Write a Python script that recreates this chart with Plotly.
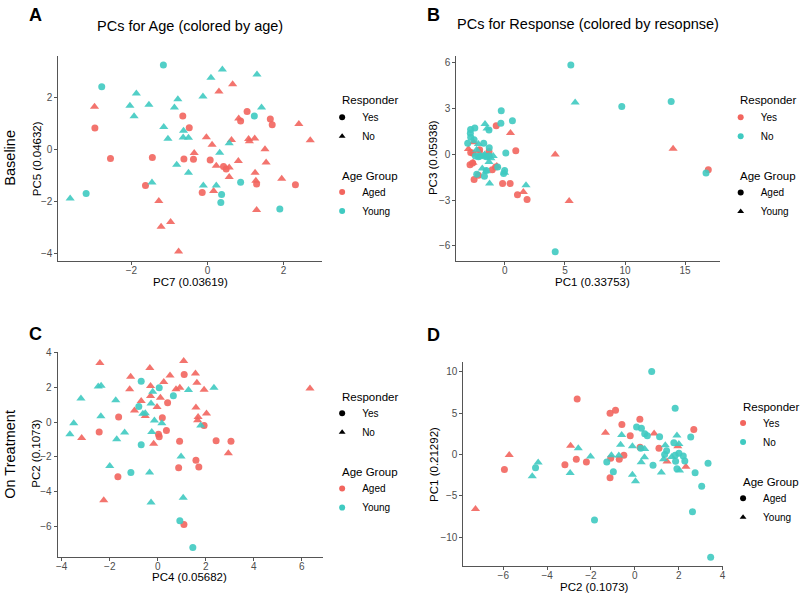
import plotly.graph_objects as go

# colours (ggplot default hue pair)
RED = "#F2655E"
CYAN = "#3FCAC1"
FONT = "Liberation Sans, Arial, Helvetica, sans-serif"

# ---- Panel A: PC7 vs PC5, colour = age group, shape = responder
a_aged_yes_x = [-0.65, -0.48, -2.96, -2.55, -1.45, -0.62, -0.37, 0.07, 0.42, 0.49, 1.04, 0.87, 1.65, 1.70, -1.63, -0.14, 1.29, 2.31]
a_aged_yes_y = [1.29, 0.84, 0.83, -0.35, -0.31, -0.37, -0.38, -0.41, -0.66, -0.75, 1.47, 1.10, 1.18, 0.95, -1.39, -1.66, -1.33, -1.36]
a_aged_no_x = [-2.97, 0.66, 0.30, 0.82, -0.03, 0.12, 0.63, 1.08, 1.10, 1.24, 2.40, 2.70, 1.51, -0.35, 0.23, 0.81, 0.57, 0.57, 1.54, 1.25, 1.27, 1.95, 0.16, -1.28, -0.97, -1.22, 1.29, -0.76]
a_aged_no_y = [1.65, 2.52, 2.24, 1.20, 0.47, 0.18, 0.37, 0.40, 0.32, 0.42, 0.98, 0.36, 0.01, -0.14, -0.63, -0.45, -1.06, -0.70, -0.50, -0.90, -1.21, -1.13, -1.60, -1.99, -2.80, -2.99, -2.34, -3.94]
a_young_yes_x = [-1.16, -2.78, 1.23, -3.19, 0.87, 0.37, 0.35, 1.90]
a_young_yes_y = [3.26, 2.42, 1.29, -1.70, -1.27, -1.74, -2.05, -2.30]
a_young_no_x = [0.39, 0.09, 1.30, -1.87, -2.04, -1.54, -1.93, -0.78, -0.87, -0.12, 1.42, -1.15, -0.63, -1.04, -0.64, -0.50, 0.32, 0.57, -0.81, -0.50, -1.46, -0.11, 0.23, -3.61]
a_young_no_y = [3.09, 2.77, 2.90, 2.16, 1.69, 1.73, 1.28, 1.94, 1.62, 2.05, 1.62, 0.87, 0.72, 0.41, 0.46, 0.45, -0.13, 0.24, -0.59, -0.90, -1.28, -1.39, -1.39, -1.89]

# ---- Panel B: PC1 vs PC3, colour = responder, shape = age group
b_yes_aged_x = [-0.72, 0.91, -2.84, -2.65, -1.32, -2.90, -2.68, -0.77, -1.05, -2.56, -2.20, -0.19, 0.44, 1.05, 1.85, 16.93, -2.10]
b_yes_aged_y = [1.89, 0.24, 0.13, 0.07, 0.20, -0.67, -0.56, -0.82, -1.00, -1.65, -1.37, -1.91, -1.91, -2.65, -2.95, -1.00, 0.30]
b_yes_young_x = [0.47, -3.03, -2.60, -2.15, -2.65, -0.67, 1.54, 4.19, 14.00, 5.35]
b_yes_young_y = [1.41, 0.35, 0.80, 0.25, -0.55, -0.76, -2.47, 0.00, 0.37, -3.06]
b_no_aged_x = [5.49, 9.73, 13.84, 16.74, 4.19, 0.63, -0.33, -0.30, 0.08, -2.50, -2.85, -2.87, -1.32, -2.84, -2.56, -3.09, -1.76, -1.30, -2.45, -2.20, -2.07, -1.70, -1.52, -1.30, -0.60, -0.02, -0.10, -2.34, -1.70, -1.55]
b_no_aged_y = [5.86, 3.15, 3.47, -1.21, -6.38, 2.21, 2.04, 2.86, 0.09, 1.74, 1.63, 1.39, 1.61, 1.13, 0.96, 0.74, 0.74, 0.44, -0.10, -0.15, -0.10, -0.10, -0.15, -0.10, -0.82, -1.06, -1.25, -1.30, -1.43, -1.05]
b_no_young_x = [5.85, -1.65, -1.48, -2.20, -2.35, -1.68, -0.97, -1.32, -1.88, -1.55, -1.27, 1.76, -0.02, -1.16, -2.00]
b_no_young_y = [3.41, 1.99, 1.70, 0.68, 0.30, 0.00, -0.10, -0.50, -0.93, -1.10, -1.91, -2.02, -1.20, -0.25, -0.10]

# ---- Panel C: PC4 vs PC2, colour = age group, shape = responder
c_aged_yes_x = [1.10, 0.41, -1.63, -2.44, 0.19, 0.36, 0.03, 0.06, 0.91, 1.93, 2.43, 3.05, 1.59, 1.71, 0.87, -1.66, 1.09]
c_aged_yes_y = [2.74, 1.12, 0.29, -0.57, 0.25, -0.48, -0.69, -0.84, -1.10, -0.19, -1.07, -1.10, -2.19, -2.59, -2.63, -3.14, -5.90]
c_aged_no_x = [-2.41, -1.13, -1.17, -0.33, -0.30, 1.08, 0.51, 0.25, -0.30, 0.11, -0.69, -0.97, -0.52, -0.03, 0.76, 0.92, 1.57, 1.63, 1.93, 1.59, 2.03, 1.68, 1.66, 6.34, -3.17, -0.17, 2.94, -2.25]
c_aged_no_y = [3.41, 2.61, 1.90, 3.12, 2.08, 3.52, 2.69, 2.32, 1.50, 1.41, 1.22, 0.67, 0.36, 0.88, 1.90, 1.98, 2.80, 2.27, 1.87, 0.84, 0.50, 0.30, 0.11, 1.94, -0.91, -1.24, -1.79, -4.50]
c_young_yes_x = [-0.69, 0.06, 0.65, -0.79, -0.69, -1.12, 0.92, 1.46]
c_young_yes_y = [2.36, 1.98, 1.52, 0.90, -1.30, -2.90, -5.68, -7.22]
c_young_no_x = [-2.48, -2.36, -3.20, -1.75, -2.37, -3.50, -3.66, -1.71, -1.38, -2.00, -0.21, -0.28, -0.62, -0.52, -0.14, 0.17, -0.25, 1.28, 2.34, 1.79, 0.97, -0.34, -0.28, 1.06]
c_young_no_y = [2.06, 2.10, 1.37, 1.26, 0.34, -0.06, -0.69, -0.99, -0.59, -2.53, 1.75, 1.07, 0.48, 0.51, 0.10, -0.06, -0.57, 1.85, 1.98, -0.19, -1.98, -2.90, -4.63, -4.36]

# ---- Panel D: PC2 vs PC1, colour = responder, shape = age group
d_yes_aged_x = [-2.63, -1.13, -0.88, -0.59, 0.23, -0.21, 2.69, 0.24, 1.10, -0.50, -0.71, -1.10, -2.67, -2.21, -3.19, -5.95, -1.13]
d_yes_aged_y = [6.71, 4.99, 5.35, 3.63, 4.27, 2.28, 3.03, 0.88, 0.76, -0.08, -0.56, -0.44, -0.56, -0.88, -1.24, -1.80, -2.79]
d_yes_young_x = [-5.73, -7.27, -2.93, -1.34, 0.88, 1.96, 1.47, 2.33]
d_yes_young_y = [-0.04, -6.59, 1.08, 2.63, 2.55, 1.00, -0.84, -1.48]
d_no_aged_x = [0.77, 1.84, 0.08, 0.30, 0.45, 0.57, 1.13, 2.55, 1.78, 0.27, 1.45, 1.36, 1.84, 2.01, 2.21, 2.28, 1.86, 1.92, 2.75, 3.34, 3.05, 2.63, 3.46, -1.84, -1.28, -0.98, 0.83, -4.53]
d_no_aged_y = [10.06, 5.59, 3.35, 3.19, 2.51, 2.28, 2.16, 2.12, 1.44, 0.76, 0.48, 0.00, -0.08, 0.16, -0.16, -0.76, -0.80, -1.72, -2.20, -1.04, -3.83, -6.91, -12.42, -7.90, -0.88, -2.08, -1.28, -1.60]
d_no_young_x = [-2.58, -2.02, -2.95, -4.41, -4.68, -1.07, -0.60, -0.65, -0.73, -0.11, -0.11, 0.03, 0.29, 0.44, 0.45, 1.39, 1.92, 2.01, 1.21, 1.31, 1.68, 2.04]
d_no_young_y = [0.76, -0.24, -2.24, -0.96, -2.63, -0.08, 2.36, 1.20, -0.12, 1.00, -2.44, -3.23, -0.92, -0.32, 0.68, 1.12, 2.32, 1.28, -2.16, -0.56, -0.28, -1.92]

fig = go.Figure()


def add_points(x, y, color, symbol, n):
    sz = 7 if symbol == "circle" else 8
    fig.add_trace(go.Scatter(x=x, y=y, mode="markers", showlegend=False,
                             xaxis="x" + n, yaxis="y" + n,
                             marker=dict(color=color, symbol=symbol, size=sz, opacity=0.9,
                                         line=dict(width=0))))


def add_key(name, color, symbol, n, legend):
    fig.add_trace(go.Scatter(x=[None], y=[None], mode="markers", name=name,
                             xaxis="x" + n, yaxis="y" + n, legend=legend,
                             marker=dict(color=color, symbol=symbol, size=6)))


# A
add_points(a_aged_yes_x, a_aged_yes_y, RED, "circle", "")
add_points(a_aged_no_x, a_aged_no_y, RED, "triangle-up", "")
add_points(a_young_yes_x, a_young_yes_y, CYAN, "circle", "")
add_points(a_young_no_x, a_young_no_y, CYAN, "triangle-up", "")
# B
add_points(b_yes_aged_x, b_yes_aged_y, RED, "circle", "2")
add_points(b_yes_young_x, b_yes_young_y, RED, "triangle-up", "2")
add_points(b_no_aged_x, b_no_aged_y, CYAN, "circle", "2")
add_points(b_no_young_x, b_no_young_y, CYAN, "triangle-up", "2")
# C
add_points(c_aged_yes_x, c_aged_yes_y, RED, "circle", "3")
add_points(c_aged_no_x, c_aged_no_y, RED, "triangle-up", "3")
add_points(c_young_yes_x, c_young_yes_y, CYAN, "circle", "3")
add_points(c_young_no_x, c_young_no_y, CYAN, "triangle-up", "3")
# D
add_points(d_yes_aged_x, d_yes_aged_y, RED, "circle", "4")
add_points(d_yes_young_x, d_yes_young_y, RED, "triangle-up", "4")
add_points(d_no_aged_x, d_no_aged_y, CYAN, "circle", "4")
add_points(d_no_young_x, d_no_young_y, CYAN, "triangle-up", "4")

# legend keys
add_key("Yes", "black", "circle", "", "legend")
add_key("No", "black", "triangle-up", "", "legend")
add_key("Aged", RED, "circle", "", "legend2")
add_key("Young", CYAN, "circle", "", "legend2")
add_key("Yes", RED, "circle", "2", "legend3")
add_key("No", CYAN, "circle", "2", "legend3")
add_key("Aged", "black", "circle", "2", "legend4")
add_key("Young", "black", "triangle-up", "2", "legend4")
add_key("Yes", "black", "circle", "3", "legend5")
add_key("No", "black", "triangle-up", "3", "legend5")
add_key("Aged", RED, "circle", "3", "legend6")
add_key("Young", CYAN, "circle", "3", "legend6")
add_key("Yes", RED, "circle", "4", "legend7")
add_key("No", CYAN, "circle", "4", "legend7")
add_key("Aged", "black", "circle", "4", "legend8")
add_key("Young", "black", "triangle-up", "4", "legend8")


def axis(domain, rng, ticks, anchor, standoff):
    return dict(domain=domain, range=rng, tickvals=ticks, anchor=anchor,
                showline=True, linecolor="#555", linewidth=1, mirror=False,
                ticks="outside", ticklen=3, tickcolor="#555",
                ticklabelstandoff=standoff,
                showgrid=False, zeroline=False,
                tickfont=dict(size=10, color="#4d4d4d", family=FONT))


def legend(x, y):
    return dict(x=x, y=y, xanchor="left", yanchor="top", bgcolor="rgba(0,0,0,0)",
                font=dict(size=10, color="black", family=FONT), itemwidth=30,
                tracegroupgap=0)


fig.update_layout(
    width=800, height=595, margin=dict(l=0, r=0, t=0, b=0),
    paper_bgcolor="white", plot_bgcolor="white",
    font=dict(family=FONT, color="black"),
    xaxis=axis([0.0709, 0.4021], [-3.92, 3.0], [-2, 0, 2], "y", -3),
    yaxis=axis([0.5669, 0.9131], [-4.29, 3.6], [-4, -2, 0, 2], "x", 0),
    xaxis2=axis([0.5716, 0.9034], [-4.03, 17.92], [0, 5, 10, 15], "y2", -3),
    yaxis2=axis([0.5669, 0.9131], [-6.96, 6.44], [-6, -3, 0, 3, 6], "x2", 0),
    xaxis3=axis([0.0700, 0.4034], [-4.17, 6.87], [-4, -2, 0, 2, 4, 6], "y3", -3),
    yaxis3=axis([0.0644, 0.4118], [-7.77, 4.04], [-6, -4, -2, 0, 2, 4], "x3", 0),
    xaxis4=axis([0.5804, 0.9063], [-7.82, 4.0], [-6, -4, -2, 0, 2, 4], "y4", -3),
    yaxis4=axis([0.0487, 0.3950], [-13.5, 11.2], [-10, -5, 0, 5, 10], "x4", 0),
    legend=legend(0.4027, 0.8345),
    legend2=legend(0.4027, 0.7076),
    legend3=legend(0.904, 0.8345),
    legend4=legend(0.904, 0.7067),
    legend5=legend(0.4027, 0.3328),
    legend6=legend(0.4027, 0.2050),
    legend7=legend(0.907, 0.3163),
    legend8=legend(0.907, 0.1885),
)

annots = [
    # panel letters
    dict(text="<b>A</b>", x=0.042, y=0.983, size=18),
    dict(text="<b>B</b>", x=0.543, y=0.983, size=18),
    dict(text="<b>C</b>", x=0.042, y=0.4425, size=18),
    dict(text="<b>D</b>", x=0.543, y=0.4403, size=18),
    # titles
    dict(text="PCs for Age (colored by age)", x=0.2365, y=0.965, size=14.5),
    dict(text="PCs for Response (colored by resopnse)", x=0.7375, y=0.968, size=14.5),
    # x axis titles
    dict(text="PC7 (0.03619)", x=0.2365, y=0.531, size=11.5),
    dict(text="PC1 (0.33753)", x=0.7425, y=0.5306, size=11.5),
    dict(text="PC4 (0.05682)", x=0.236, y=0.0297, size=11.5),
    dict(text="PC2 (0.1073)", x=0.745, y=0.0129, size=11.5),
    # y axis titles
    dict(text="PC5 (0.04632)", x=0.0434, y=0.7395, size=11.5, angle=-90),
    dict(text="PC3 (0.05938)", x=0.5425, y=0.741, size=11.5, angle=-90),
    dict(text="PC2 (0.1073)", x=0.0425, y=0.2408, size=11.5, angle=-90),
    dict(text="PC1 (0.21292)", x=0.544, y=0.2213, size=11.5, angle=-90),
    # row labels
    dict(text="Baseline", x=0.009, y=0.7415, size=14.5, angle=-90),
    dict(text="On Treatment", x=0.009, y=0.238, size=14.5, angle=-90),
]
for a in annots:
    fig.add_annotation(text=a["text"], x=a["x"], y=a["y"], xref="paper", yref="paper",
                       xanchor="center", yanchor="middle", showarrow=False,
                       textangle=a.get("angle", 0),
                       font=dict(size=a["size"], color="black", family=FONT))

# legend titles (placed by hand so the key rows line up like the ggplot guides)
legend_titles = [
    ("Responder", 340, 96), ("Age Group", 340, 172.3),
    ("Responder", 740.7, 96), ("Age Group", 740.7, 172.3),
    ("Responder", 340, 395.7), ("Age Group", 340, 471),
    ("Responder", 743.3, 405.7), ("Age Group", 743.3, 481),
]
for text, px_x, px_y in legend_titles:
    fig.add_annotation(text=text, x=px_x / 800, y=1 - px_y / 595, xref="paper", yref="paper",
                       xanchor="left", yanchor="middle", showarrow=False,
                       font=dict(size=11.5, color="black", family=FONT))

fig.write_html("out.html", config={"displayModeBar": False},
               post_script="document.body.style.margin='0px';")
